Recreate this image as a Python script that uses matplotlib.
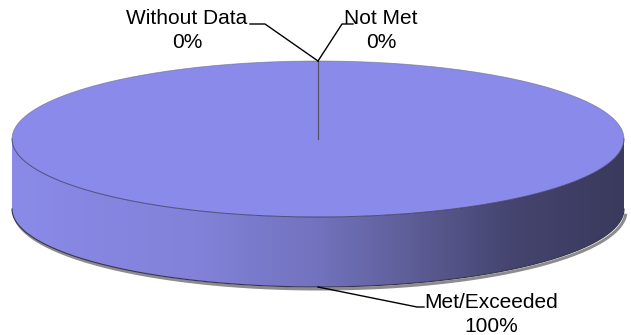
import numpy as np
import matplotlib
matplotlib.use('Agg')
import matplotlib.pyplot as plt
from matplotlib.colors import LinearSegmentedColormap
from matplotlib.patches import Polygon

plt.rcParams['font.family'] = ['Liberation Sans', 'DejaVu Sans']

# slice data, going clockwise from 12 o'clock
categories = ['Met/Exceeded', 'Not Met', 'Without Data']
values = [100, 0, 0]
pct_labels = ['100%', '0%', '0%']

top_color = '#8A8AEA'
side_cmap = LinearSegmentedColormap.from_list('side', [
    (0.0, '#8A8AE8'), (0.3, '#8282DA'), (0.5, '#7272BE'),
    (0.65, '#5E5E98'), (0.82, '#44446E'), (1.0, '#3A3A5E')])

# pie geometry in pixel units
cx, cy = 318, 139
rx, ry = 306, 78
depth = 70

fig = plt.figure(figsize=(6.31, 3.35), dpi=100)
ax = fig.add_axes([0, 0, 1, 1])
ax.set_xlim(0, 631)
ax.set_ylim(335, 0)
ax.axis('off')


def ell(theta_deg, dy=0):
    t = np.radians(theta_deg)
    return cx + rx * np.cos(t), cy - ry * np.sin(t) + dy


total = float(sum(values))
bounds = [90.0]
for v in values:
    bounds.append(bounds[-1] - 360.0 * v / total)

# drop shadow under the side wall
t = np.linspace(182, 358, 200)
sx, sy = ell(t, depth)
ax.plot(sx + 2, sy + 2, color='#8c8c8c', lw=2.2, zorder=1, solid_capstyle='butt')

# side wall: front half of each slice with a horizontal gradient
grad = np.linspace(0, 1, 256).reshape(1, -1)
for i, v in enumerate(values):
    if v == 0:
        continue
    lo, hi = bounds[i + 1], bounds[i]
    segs = []
    for off in (-360, 0, 360):
        s, e = max(lo + off, 180), min(hi + off, 360)
        if e > s:
            segs.append((s, e))
    for s, e in segs:
        tt = np.linspace(s, e, 200)
        x1, y1 = ell(tt)
        x2, y2 = ell(tt[::-1], depth)
        verts = np.column_stack([np.r_[x1, x2], np.r_[y1, y2]])
        poly = Polygon(verts, closed=True, facecolor='none', edgecolor='none')
        ax.add_patch(poly)
        im = ax.imshow(grad, cmap=side_cmap, aspect='auto',
                       extent=[cx - rx, cx + rx, cy + ry + depth, cy - ry],
                       zorder=2)
        im.set_clip_path(poly)
        ax.plot(x2, y2, color='#34344e', lw=0.8, zorder=3)

# top face: one wedge per slice
for i, v in enumerate(values):
    if v == 0:
        continue
    tt = np.linspace(bounds[i], bounds[i + 1], 400)
    x, y = ell(tt)
    if v < total:
        x, y = np.r_[cx, x], np.r_[cy, y]
    ax.add_patch(Polygon(np.column_stack([x, y]), closed=True,
                         facecolor=top_color, edgecolor='none', zorder=4))

tt = np.linspace(180, 360, 300)
ex, ey = ell(tt)
ax.plot(ex, ey, color='#3a3a5a', lw=0.7, alpha=0.8, zorder=5)
tt = np.linspace(0, 180, 300)
ex, ey = ell(tt)
ax.plot(ex, ey, color='#6a6a8a', lw=0.6, alpha=0.6, zorder=5)

# radial slice boundaries
for b in set(round(b % 360, 6) for b in bounds):
    bx, by = ell(b)
    ax.plot([cx, bx], [cy, by], color='#555566', lw=0.9, zorder=6)

# label centres and the elbow of each leader line
label_pos = {
    'Without Data': (187, 18, [(250, 24), (265, 24)]),
    'Not Met': (381, 18, [(342, 24), (353, 24)]),
    'Met/Exceeded': (491, 302, [(417, 307), (424, 307)]),
}
for i, (cat, pct) in enumerate(zip(categories, pct_labels)):
    mid = (bounds[i] + bounds[i + 1]) / 2.0
    px, py = ell(mid)
    if np.sin(np.radians(mid)) < -0.5:
        py += depth
    lx, ly, elbow = label_pos[cat]
    ax.text(lx, ly, cat, ha='center', va='center', fontsize=15, zorder=7)
    ax.text(lx, ly + 24, pct, ha='center', va='center', fontsize=15, zorder=7)
    pts = sorted(elbow + [(px, py)], key=lambda p: p[0])
    ax.plot([p[0] for p in pts], [p[1] for p in pts], color='black', lw=1.0, zorder=7)

fig.savefig('out.png', dpi=100, facecolor='white')
